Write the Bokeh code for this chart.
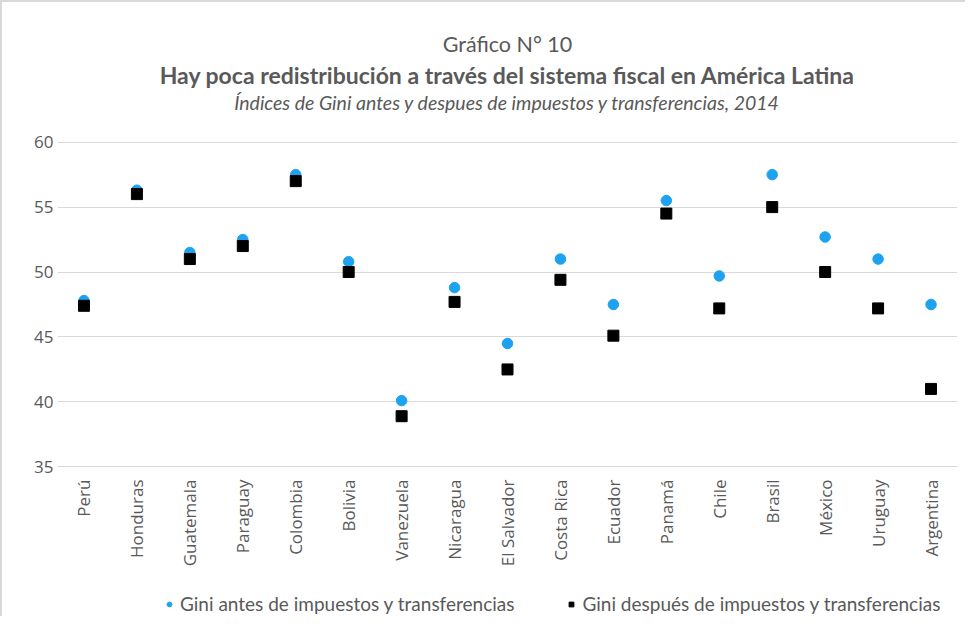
from bokeh.plotting import figure
from bokeh.layouts import column
from bokeh.models import Range1d, Title, Legend, LegendItem, FixedTicker
from bokeh.embed import file_html
from bokeh.resources import INLINE
from math import pi

countries = ["Perú", "Honduras", "Guatemala", "Paraguay", "Colombia", "Bolivia",
             "Vanezuela", "Nicaragua", "El Salvador", "Costa Rica", "Ecuador",
             "Panamá", "Chile", "Brasil", "México", "Uruguay", "Argentina"]
gini_antes = [47.8, 56.3, 51.5, 52.5, 57.5, 50.8, 40.1, 48.8, 44.5, 51.0, 47.5,
              55.5, 49.7, 57.5, 52.7, 51.0, 47.5]
gini_despues = [47.4, 56.0, 51.0, 52.0, 57.0, 50.0, 38.9, 47.7, 42.5, 49.4, 45.1,
                54.5, 47.2, 55.0, 50.0, 47.2, 41.0]
y_ticks = [35, 40, 45, 50, 55, 60]

title_top = "Gráfico N° 10"
title_main = "Hay poca redistribución a través del sistema fiscal en América Latina"
title_sub = "Índices de Gini antes y despues de impuestos y transferencias, 2014"
legend_antes = "Gini antes de impuestos y transferencias"
legend_despues = "Gini después de impuestos y transferencias"

GRAY = "#595959"
BLUE = "#1DA2F0"

# ---------------- main chart ----------------
p = figure(x_range=countries, y_range=Range1d(34.95, 60.05),
           frame_width=898, frame_height=324,
           output_backend="svg", toolbar_location=None,
           min_border_left=55, min_border_right=10, min_border_top=10,
           min_border_bottom=125)
p.styles = {"border-left": "2px solid #d9d9d9", "border-top": "2px solid #d9d9d9"}
p.outline_line_color = None
p.background_fill_color = "white"
p.border_fill_color = "white"

p.scatter(countries, gini_antes, marker="circle", size=10.5,
          fill_color=BLUE, line_color=BLUE)
p.scatter(countries, gini_despues, marker="square", size=11,
          fill_color="black", line_color="black")

p.yaxis.ticker = FixedTicker(ticks=y_ticks)
p.ygrid.ticker = FixedTicker(ticks=y_ticks)
p.ygrid.grid_line_color = "#d9d9d9"
p.ygrid.grid_line_width = 1
p.xgrid.grid_line_color = None

for ax in (p.xaxis, p.yaxis):
    ax.axis_line_color = None
    ax.major_tick_line_color = None
    ax.minor_tick_line_color = None
    ax.major_tick_out = 0
    ax.minor_tick_out = 0
    ax.major_label_text_color = GRAY
    ax.major_label_text_font = "Open Sans"
p.yaxis.major_label_text_font_size = "17px"
p.yaxis.major_label_standoff = 4
p.xaxis.major_label_text_font_size = "17px"
p.xaxis.major_label_orientation = pi / 2
p.xaxis.major_label_standoff = 12

# outermost spacer
p.title = Title(text=" ", text_font_size="1px", standoff=22)

def add_title(text, size, style, standoff):
    p.add_layout(Title(text=text, align="center", text_font="Lato",
                       text_font_style=style, text_font_size=size,
                       text_color=GRAY, standoff=standoff), "above")

add_title(" ", "1px", "normal", 25)          # spacer next to the frame
add_title(title_sub, "19.5px", "italic", 0)
add_title(title_main, "23px", "bold", 0)
add_title(title_top, "21.5px", "normal", 3)

# ---------------- legend strip ----------------
p2 = figure(x_range=countries, y_range=Range1d(0, 1), width=963, height=26,
            output_backend="svg", toolbar_location=None,
            x_axis_type=None, y_axis_type=None, min_border=0)
p2.styles = {"border-left": "2px solid #d9d9d9"}
p2.outline_line_color = None
p2.xgrid.grid_line_color = None
p2.ygrid.grid_line_color = None
p2.background_fill_color = "white"
p2.border_fill_color = "white"
# same series, outside this strip's range: only their legend samples show
l1 = p2.scatter(countries, gini_antes, marker="circle", size=10.5,
                fill_color=BLUE, line_color=BLUE)
l2 = p2.scatter(countries, gini_despues, marker="square", size=11,
                fill_color="black", line_color="black")

legend = Legend(items=[LegendItem(label=legend_antes, renderers=[l1]),
                       LegendItem(label=legend_despues, renderers=[l2])],
                orientation="horizontal", location=(106, 1),
                label_text_font="Lato", label_text_font_size="19px",
                label_text_color=GRAY, border_line_color=None,
                background_fill_alpha=0, spacing=51, glyph_width=12,
                glyph_height=20, label_standoff=5, padding=0, margin=0)
p2.add_layout(legend)

layout = column(p, p2, spacing=0)
open("out.html", "w").write(file_html(layout, INLINE))
